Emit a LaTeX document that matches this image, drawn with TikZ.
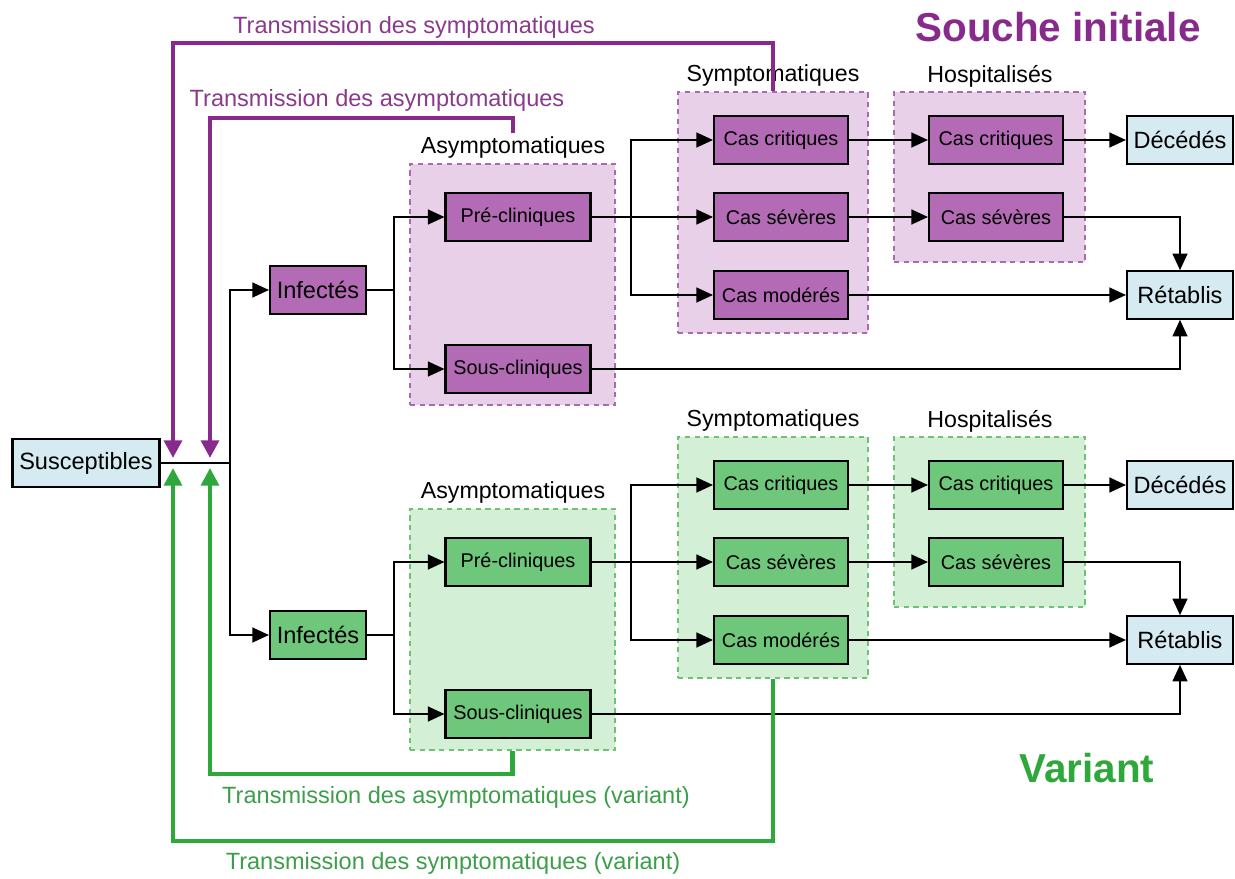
\documentclass[tikz,border=0pt]{standalone}
\usepackage{fontspec}
\setmainfont{Liberation Sans}
\usepackage{tikz}
\usetikzlibrary{arrows.meta,calc,positioning}
\definecolor{bleu}{HTML}{D5EAF1}
\definecolor{pnode}{HTML}{B46BB5}
\definecolor{pgrp}{HTML}{E8D1E8}
\definecolor{pline}{HTML}{872A8C}
\definecolor{ptext}{HTML}{8A3A8D}
\definecolor{gnode}{HTML}{6EC77A}
\definecolor{ggrp}{HTML}{D3EFD6}
\definecolor{gline}{HTML}{2EA83A}
\definecolor{gtext}{HTML}{3D9E49}

\begin{document}
\begin{tikzpicture}[x=0.02cm,y=-0.02cm,
    >={Triangle[length=9.5pt,width=8.5pt]},
    line width=1.1pt,
    extbox/.style={draw,line width=1.2pt,fill=bleu,minimum height=0.95cm,inner sep=0pt,font=\fontsize{13.4}{15}\selectfont},
    intbox/.style={draw,line width=1.2pt,minimum width=2.68cm,minimum height=0.95cm,inner sep=0pt,font=\fontsize{11.3}{13}\selectfont},
    grpbox/.style={draw,dash pattern=on 3pt off 2.5pt,line width=1pt,inner sep=0pt},
    grplbl/.style={font=\fontsize{13.2}{15}\selectfont},
    trlbl/.style={font=\fontsize{13.4}{15}\selectfont},
    tr1/.style={line width=2.4pt,draw=pline,-{Triangle[length=10pt,width=10pt]}},
    tr2/.style={line width=2.4pt,draw=gline,-{Triangle[length=10pt,width=10pt]}}]
		\useasboundingbox (0,0) rectangle (1235,879);

		\node (titre1) at (1058,27) {\fontsize{23}{26}\selectfont\bfseries\color{pline}Souche initiale};
		\node (titre2) at (1087,768) {\fontsize{23}{26}\selectfont\bfseries\color{gline}Variant};

		\node[grpbox,draw=pline!70,fill=pgrp,minimum width=4.1cm,minimum height=4.82cm] (asy1) at (512.5,284.5) {};
		\node[grpbox,draw=pline!70,fill=pgrp,minimum width=3.8cm,minimum height=4.82cm] (sym1) at (773,212.5) {};
		\node[grpbox,draw=pline!70,fill=pgrp,minimum width=3.82cm,minimum height=3.4cm] (hos1) at (989.5,177) {};
		\node[grplbl] (l1) at (513,148) {Asymptomatiques};
		\node[grplbl] (l2) at (773,76) {Symptomatiques};
		\node[grplbl] (l3) at (990,76) {Hospitalisés};

		\node[grpbox,draw=gline!70,fill=ggrp,minimum width=4.1cm,minimum height=4.82cm] (asy2) at (512.5,629.5) {};
		\node[grpbox,draw=gline!70,fill=ggrp,minimum width=3.8cm,minimum height=4.82cm] (sym2) at (773,557.5) {};
		\node[grpbox,draw=gline!70,fill=ggrp,minimum width=3.82cm,minimum height=3.4cm] (hos2) at (989.5,522) {};
		\node[grplbl] (l4) at (513,493) {Asymptomatiques};
		\node[grplbl] (l5) at (773,421) {Symptomatiques};
		\node[grplbl] (l6) at (990,421) {Hospitalisés};

		\node[extbox,minimum width=2.94cm] (susc) at (86,463) {Susceptibles};

		\node[extbox,fill=pnode,minimum width=1.92cm] (inf1) at (318,290) {Infectés};
		\node[intbox,fill=pnode,minimum width=2.9cm] (pre1) at (518,217) {Pré-cliniques};
		\node[intbox,fill=pnode,minimum width=2.9cm] (sous1) at (518,369) {Sous-cliniques};
		\node[intbox,fill=pnode] (crit1) at (781,140) {Cas critiques};
		\node[intbox,fill=pnode] (sev1) at (781,217) {Cas sévères};
		\node[intbox,fill=pnode] (mod1) at (781,295) {Cas modérés};
		\node[intbox,fill=pnode] (hcrit1) at (996,140) {Cas critiques};
		\node[intbox,fill=pnode] (hsev1) at (996,217) {Cas sévères};
		\node[extbox,minimum width=2.12cm] (dec1) at (1180,140) {Décédés};
		\node[extbox,minimum width=2.12cm] (ret1) at (1180,295) {Rétablis};

		\node[extbox,fill=gnode,minimum width=1.92cm] (inf2) at (318,635) {Infectés};
		\node[intbox,fill=gnode,minimum width=2.9cm] (pre2) at (518,562) {Pré-cliniques};
		\node[intbox,fill=gnode,minimum width=2.9cm] (sous2) at (518,714) {Sous-cliniques};
		\node[intbox,fill=gnode] (crit2) at (781,485) {Cas critiques};
		\node[intbox,fill=gnode] (sev2) at (781,562) {Cas sévères};
		\node[intbox,fill=gnode] (mod2) at (781,640) {Cas modérés};
		\node[intbox,fill=gnode] (hcrit2) at (996,485) {Cas critiques};
		\node[intbox,fill=gnode] (hsev2) at (996,562) {Cas sévères};
		\node[extbox,minimum width=2.12cm] (dec2) at (1180,485) {Décédés};
		\node[extbox,minimum width=2.12cm] (ret2) at (1180,640) {Rétablis};

		\coordinate (s) at (230,463);
		\draw[-] (susc) to (s);
		\draw[->] (s) |- (inf1);
		\draw[->] (s) |- (inf2);

		\draw[->] (inf1.east) -- ++(27,0) |- (pre1);
		\draw[->] (inf1.east) -- ++(27,0) |- (sous1);
		\draw[->] (pre1.east) -- ++(39,0) |- (crit1);
		\draw[->] (pre1.east) -- ++(39,0) |- (sev1);
		\draw[->] (pre1.east) -- ++(39,0) |- (mod1);
		\draw[->] (crit1) to (hcrit1);
		\draw[->] (sev1) to (hsev1);
		\draw[->] (hcrit1) to (dec1);
		\draw[->] (hsev1.east) -| (ret1.north);
		\draw[->] (mod1) to (ret1);
		\draw[->] (sous1.east) -| (ret1.south);

		\draw[->] (inf2.east) -- ++(27,0) |- (pre2);
		\draw[->] (inf2.east) -- ++(27,0) |- (sous2);
		\draw[->] (pre2.east) -- ++(39,0) |- (crit2);
		\draw[->] (pre2.east) -- ++(39,0) |- (sev2);
		\draw[->] (pre2.east) -- ++(39,0) |- (mod2);
		\draw[->] (crit2) to (hcrit2);
		\draw[->] (sev2) to (hsev2);
		\draw[->] (hcrit2) to (dec2);
		\draw[->] (hsev2.east) -| (ret2.north);
		\draw[->] (mod2) to (ret2);
		\draw[->] (sous2.east) -| (ret2.south);

		\coordinate (t1) at (173,458);
		\coordinate (t2) at (210,458);
		\coordinate (t3) at (173,468);
		\coordinate (t4) at (210,468);
		\coordinate (a1) at (513,133);
		\draw[tr1] (sym1.north) -- ++(0,-48) -| (t1);
		\draw[tr1] (a1) -- ++(0,-15) -| (t2);
		\draw[tr2] (sym2.south) -- ++(0,162) -| (t3);
		\draw[tr2] (asy2.south) -- ++(0,23) -| (t4);

		\node[trlbl,text=ptext] (m1) at (414,27) {Transmission des symptomatiques};
		\node[trlbl,text=ptext] (m2) at (377,100) {Transmission des asymptomatiques};
		\node[trlbl,text=gtext] (m3) at (456,797) {Transmission des asymptomatiques (variant)};
		\node[trlbl,text=gtext] (m4) at (453,863) {Transmission des symptomatiques (variant)};
	\end{tikzpicture}
\end{document}
